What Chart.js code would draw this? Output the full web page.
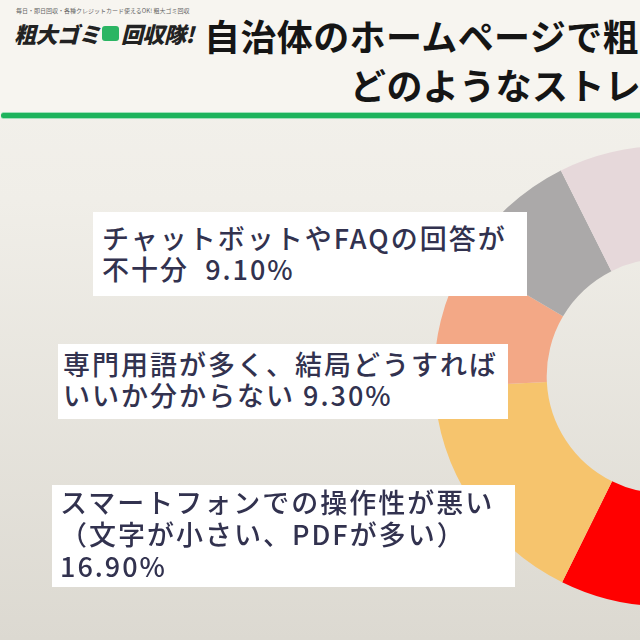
<!DOCTYPE html>
<html lang="ja">
<head>
<meta charset="utf-8">
<script src="https://cdn.jsdelivr.net/npm/chart.js@4/dist/chart.umd.min.js"></script>
<style>
  html, body { margin: 0; padding: 0; }
  body {
    width: 640px; height: 640px; overflow: hidden; position: relative;
    background: linear-gradient(#f4f2ed 0px, #f0eee8 200px, #dcd9d1 640px);
    font-family: "Noto Sans CJK JP", "Noto Sans", sans-serif;
  }
  #header { position: absolute; left: 0; top: 0; width: 640px; height: 114px; background: #f7f5f0; }
  #rule { position: absolute; left: 1px; top: 113px; width: 650px; height: 5px; background: #1db35c;
          border-radius: 3px; box-shadow: 0 -1px 0 #9fe0bb, 0 1px 0 #9fe0bb; }
  .title { position: absolute; white-space: nowrap; font-size: 36px; font-weight: 700; color: #151515;
           line-height: 40px; letter-spacing: 0.4px; }
  #t1 { left: 204px; top: 15px; }
  #t2 { left: 350px; top: 64px; }
  #logo-small { position: absolute; left: 16px; top: 6px; font-size: 6px; color: #666; white-space: nowrap; }
  #logo { position: absolute; left: 14px; top: 17px; font-size: 22px; font-weight: 900; font-style: italic;
          color: #222; white-space: nowrap; letter-spacing: -0.5px; }
  #logo .ico { display: inline-block; width: 17px; height: 15px; background: #2bb563; border-radius: 3px;
               vertical-align: 2px; margin: 0 2px; }
  #wrap { position: absolute; left: 434px; top: 146px; width: 460px; height: 460px; }
  .box { position: absolute; background: #ffffff; color: #32324f; font-size: 27px; font-weight: 500;
         line-height: 31px; letter-spacing: 2px; white-space: pre; z-index: 2; box-sizing: border-box; }
  #b0 { left: 93px; top: 212px; width: 434px; height: 84px; padding: 10px 0 0 9px; }
  #b1 { left: 58px; top: 344px; width: 450px; height: 75px; padding: 4px 0 0 5px; }
  #b2 { left: 52px; top: 485px; width: 463px; height: 102px; padding: 1px 0 0 8px; line-height: 32px; }
</style>
</head>
<body>
<div id="header"></div>
<div id="logo-small">毎日・即日回収・各種クレジットカード使えるOK! 粗大ゴミ回収</div>
<div id="logo">粗大ゴミ<span class="ico"></span>回収隊!</div>
<div class="title" id="t1">自治体のホームページで粗大ゴミの出し方を調べた際、</div>
<div class="title" id="t2">どのようなストレスを感じましたか？</div>
<div id="rule"></div>

<div id="wrap"><canvas id="chart"></canvas></div>
<div class="box" id="b0"></div>
<div class="box" id="b1"></div>
<div class="box" id="b2"></div>

<script>
// answers, clockwise from the top (first three are outside the crop, estimated)
const categories = [
  '情報がどこにあるか分かりにくい',
  '品目の分類が分かりにくい',
  '料金や申込方法が分かりにくい',
  'スマートフォンでの操作性が悪い（文字が小さい、PDFが多い）',
  '専門用語が多く、結局どうすればいいか分からない',
  'チャットボットやFAQの回答が不十分',
  'その他'
];
const shares = [24.5, 13.7, 19.1, 16.9, 9.3, 9.1, 7.4];
const colors = ['#d9c7c9', '#b9b4b2', '#ff0000', '#f6c46d', '#f3a886', '#aba9a9', '#e6d8da'];

// text of the three callouts (index into categories + how the label wraps)
const callouts = [
  { idx: 5, lines: ['チャットボットやFAQの回答が', '不十分 '], sep: ' ' },
  { idx: 4, lines: ['専門用語が多く、結局どうすれば', 'いいか分からない'], sep: ' ' },
  { idx: 3, lines: ['スマートフォンでの操作性が悪い', '（文字が小さい、PDFが多い）', ''], sep: '' }
];

callouts.forEach((c, i) => {
  const lines = c.lines.slice();
  lines[lines.length - 1] += c.sep + shares[c.idx].toFixed(2) + '%';
  document.getElementById('b' + i).textContent = lines.join('\n');
});

new Chart(document.getElementById('chart'), {
  type: 'doughnut',
  data: {
    labels: categories,
    datasets: [{
      data: shares,
      backgroundColor: colors,
      borderWidth: 0,
      hoverOffset: 0
    }]
  },
  options: {
    responsive: true,
    maintainAspectRatio: false,
    animation: false,
    cutout: '51%',
    layout: { padding: 0 },
    plugins: {
      legend: { display: false },
      tooltip: { enabled: false }
    }
  }
});
</script>
</body>
</html>
